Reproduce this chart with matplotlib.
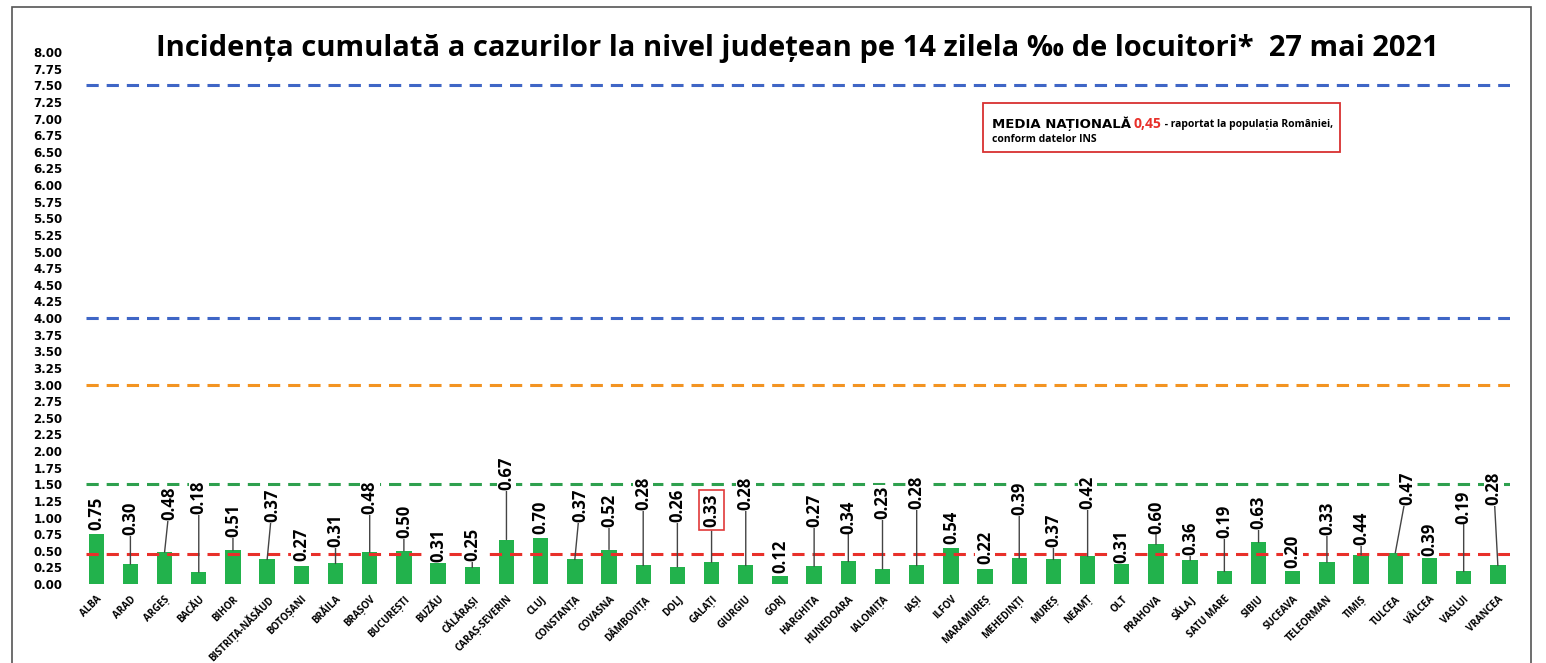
import matplotlib
matplotlib.use('Agg')
import matplotlib.pyplot as plt
from matplotlib.patches import Rectangle

counties = ['ALBA', 'ARAD', 'ARGEȘ', 'BACĂU', 'BIHOR', 'BISTRIȚA-NĂSĂUD', 'BOTOȘANI',
            'BRĂILA', 'BRAȘOV', 'BUCUREȘTI', 'BUZĂU', 'CĂLĂRAȘI', 'CARAȘ-SEVERIN', 'CLUJ',
            'CONSTANȚA', 'COVASNA', 'DÂMBOVIȚA', 'DOLJ', 'GALAȚI', 'GIURGIU', 'GORJ',
            'HARGHITA', 'HUNEDOARA', 'IALOMIȚA', 'IAȘI', 'ILFOV', 'MARAMUREȘ', 'MEHEDINȚI',
            'MUREȘ', 'NEAMȚ', 'OLT', 'PRAHOVA', 'SĂLAJ', 'SATU MARE', 'SIBIU', 'SUCEAVA',
            'TELEORMAN', 'TIMIȘ', 'TULCEA', 'VÂLCEA', 'VASLUI', 'VRANCEA']
incidence = [0.75, 0.30, 0.48, 0.18, 0.51, 0.37, 0.27, 0.31, 0.48, 0.50, 0.31, 0.25,
             0.67, 0.70, 0.37, 0.52, 0.28, 0.26, 0.33, 0.28, 0.12, 0.27, 0.34, 0.23,
             0.28, 0.54, 0.22, 0.39, 0.37, 0.42, 0.31, 0.60, 0.36, 0.19, 0.63, 0.20,
             0.33, 0.44, 0.47, 0.39, 0.19, 0.28]
national_mean = 0.45
thresholds = [(7.5, '#3f66c6'), (4.0, '#3f66c6'), (3.0, '#f39422'), (1.5, '#2ea04e')]
highlight = 'GALAȚI'

# where each value label sits (bottom of the text, in data units)
label_y = [0.82, 0.74, 0.96, 1.05, 0.71, 0.93, 0.34, 0.56, 1.05, 0.69, 0.33, 0.34,
           1.41, 0.76, 0.93, 0.86, 1.11, 0.93, 0.86, 1.11, 0.16, 0.86, 0.76, 0.98,
           1.13, 0.61, 0.30, 1.04, 0.56, 1.13, 0.31, 0.76, 0.44, 0.69, 0.83, 0.24,
           0.74, 0.59, 1.19, 0.42, 0.91, 1.19]
label_dx = {'ARGEȘ': 0.15, 'BISTRIȚA-NĂSĂUD': 0.15, 'CONSTANȚA': 0.15, 'TULCEA': 0.35,
            'VRANCEA': -0.12}

FONT = 'Open Sans'

fig = plt.figure(figsize=(15.46, 6.63), dpi=100)
ax = fig.add_axes([0.0556, 0.119, 0.921, 0.8025])

x = list(range(len(counties)))
ax.bar(x, incidence, width=0.45, color='#22b24c', zorder=2)

for level, col in thresholds:
    ax.axhline(level, color=col, lw=2.2, ls=(0, (4, 2.6)), zorder=3)
ax.axhline(national_mean, color='#e8302a', lw=2.2, ls=(0, (4, 2.6)), zorder=3)

for i, (name, v, ly) in enumerate(zip(counties, incidence, label_y)):
    dx = label_dx.get(name, 0)
    if name == highlight:
        box = dict(boxstyle='square,pad=0.2', fc='white', ec='#e03a3a', lw=1.2)
    else:
        box = dict(boxstyle='square,pad=0.05', fc='white', ec='none')
    arrow = None
    if ly - v > 0.08:
        arrow = dict(arrowstyle='-', color='#444444', lw=1.0, shrinkA=0, shrinkB=0)
    ax.annotate(f'{v:.2f}', xy=(i, v), xytext=(i + dx, ly), rotation=90,
                ha='center', va='bottom', fontsize=12, fontweight='bold',
                family=FONT, bbox=box, arrowprops=arrow, zorder=4)

ax.set_xlim(-0.3, 41.35)
ax.set_ylim(0, 8)
ax.set_yticks([i * 0.25 for i in range(33)])
ax.set_yticklabels([f'{i * 0.25:.2f}' for i in range(33)], fontsize=8.5, fontweight='bold')
ax.set_xticks(x)
ax.set_xticklabels(counties, rotation=45, ha='right', va='top', rotation_mode='anchor',
                   fontsize=7, fontweight='bold', family=FONT)
ax.tick_params(axis='y', length=0, pad=17)
ax.tick_params(axis='x', length=0, pad=7)
for s in ax.spines.values():
    s.set_visible(False)

fig.text(0.5156, 0.9276, 'Incidența cumulată a cazurilor la nivel județean pe 14 zilela ‰ de locuitori*  27 mai 2021',
         ha='center', va='center', fontsize=21, fontweight='bold', family=FONT)

# info box
fig.patches.append(Rectangle((0.6358, 0.7707), 0.231, 0.0739, transform=fig.transFigure,
                             fill=False, ec='#d83030', lw=1.3))
t1 = fig.text(0.6417, 0.803, 'MEDIA NAȚIONALĂ', fontsize=9.5, fontweight='heavy', color='black',
              va='bottom')
ann2 = plt.annotate('0,45', xy=(1, 0), xycoords=t1, xytext=(2, 0), textcoords='offset points',
                    va='bottom', ha='left', fontsize=10, fontweight='bold', color='#e8302a',
                    family=FONT)
plt.annotate(' - raportat la populația României,', xy=(1, 0), xycoords=ann2, xytext=(0, 0.5),
             textcoords='offset points', va='bottom', ha='left', fontsize=7.5,
             fontweight='bold', family=FONT)
fig.text(0.6417, 0.781, 'conform datelor INS', fontsize=7.5, fontweight='bold', family=FONT,
         va='bottom')

# outer frame
fig.patches.append(Rectangle((12 / 1546, -0.01), 1519 / 1546, 1 - 7 / 663 + 0.01,
                             transform=fig.transFigure, fill=False, ec='#555555', lw=1.2))

fig.savefig('out.png', dpi=100, facecolor='white')
